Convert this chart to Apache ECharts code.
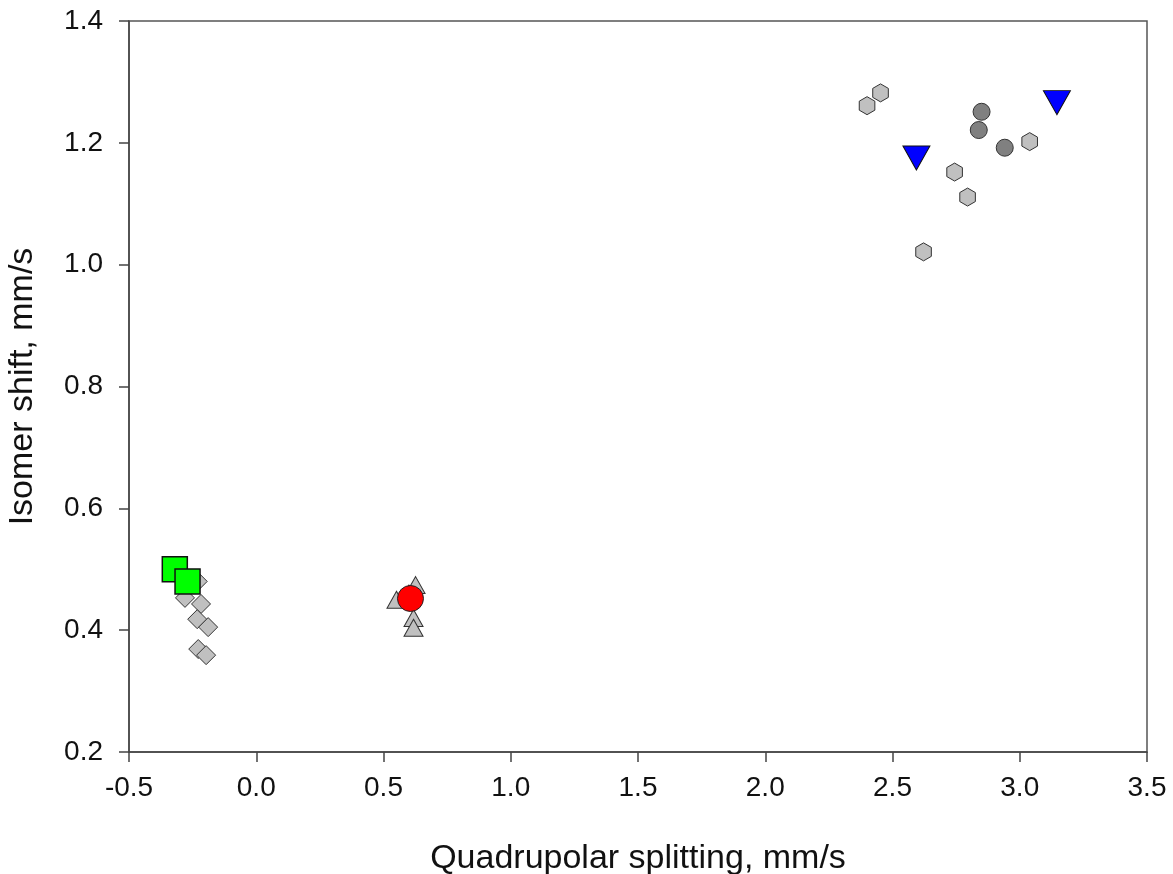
<!DOCTYPE html>
<html>
<head>
<meta charset="utf-8">
<script src="https://cdn.jsdelivr.net/npm/echarts@6/dist/echarts.min.js"></script>
<style>html,body{margin:0;padding:0;background:#fff}#c{width:1173px;height:874px}</style>
</head>
<body>
<div id="c"></div>
<script>
// Data [quadrupolar splitting, isomer shift]
const grayDiamonds = [[-0.23,0.48],[-0.28,0.453],[-0.217,0.443],[-0.232,0.418],[-0.189,0.405],[-0.228,0.369],[-0.197,0.359]];
const greenSquares = [[-0.32,0.50],[-0.27,0.48]];
const grayTriangles = [[0.626,0.474],[0.60,0.46],[0.551,0.45],[0.618,0.42],[0.618,0.404]];
const redCircle = [[0.606,0.452]];
const grayHexagons = [[2.40,1.261],[2.453,1.282],[3.039,1.202],[2.744,1.152],[2.795,1.111],[2.622,1.021]];
const darkCircles = [[2.85,1.251],[2.839,1.221],[2.941,1.192]];
const blueTriangles = [[2.594,1.175],[3.146,1.266]];

const xTitle = 'Quadrupolar splitting, mm/s';
const yTitle = 'Isomer shift, mm/s';

const font = 'Liberation Sans, Arial, sans-serif';
const hexPath = 'path://M0,-1 L0.866,-0.5 L0.866,0.5 L0,1 L-0.866,0.5 L-0.866,-0.5 Z';
const border = {borderColor:'#333', borderWidth:1, opacity:1};

const chart = echarts.init(document.getElementById('c'), null, {renderer:'canvas'});
chart.setOption({
  animation:false,
  backgroundColor:'#fff',
  grid:{left:129, right:26, top:21, bottom:122, outerBoundsMode:'none', containLabel:false,
        show:true, borderColor:'#555', borderWidth:1.5, backgroundColor:'transparent'},
  xAxis:{
    type:'value', min:-0.5, max:3.5, interval:0.5,
    name:xTitle, nameLocation:'middle', nameGap:90,
    nameTextStyle:{fontFamily:font, fontSize:34, color:'#111'},
    axisLine:{show:true, onZero:false, lineStyle:{color:'#444', width:1.5}},
    axisTick:{show:true, inside:false, length:10, lineStyle:{color:'#444', width:1.5}},
    axisLabel:{fontFamily:font, fontSize:28, color:'#111', margin:22, formatter:v=>v.toFixed(1)},
    splitLine:{show:false}
  },
  yAxis:{
    type:'value', min:0.2, max:1.4, interval:0.2,
    name:yTitle, nameLocation:'middle', nameGap:89,
    nameTextStyle:{fontFamily:font, fontSize:34, color:'#111'},
    axisLine:{show:true, onZero:false, lineStyle:{color:'#444', width:1.5}},
    axisTick:{show:true, inside:false, length:10, lineStyle:{color:'#444', width:1.5}},
    axisLabel:{fontFamily:font, fontSize:28, color:'#111', margin:26, formatter:v=>v.toFixed(1)},
    splitLine:{show:false}
  },
  series:[
    {type:'scatter', data:grayDiamonds, symbol:'diamond', symbolSize:[19,19], itemStyle:Object.assign({color:'#c0c0c0'},border)},
    {type:'scatter', data:greenSquares, symbol:'rect', symbolSize:25, itemStyle:{color:'#00ff00', borderColor:'#111', borderWidth:1.5, opacity:1}},
    {type:'scatter', data:grayTriangles, symbol:'triangle', symbolSize:[19,17], itemStyle:Object.assign({color:'#c0c0c0'},border)},
    {type:'scatter', data:redCircle, symbol:'circle', symbolSize:26, itemStyle:{color:'#ff0000', borderColor:'#222', borderWidth:1, opacity:1}},
    {type:'scatter', data:grayHexagons, symbol:hexPath, symbolKeepAspect:true, symbolSize:[18,18], itemStyle:Object.assign({color:'#c0c0c0'},border)},
    {type:'scatter', data:darkCircles, symbol:'circle', symbolSize:17, itemStyle:Object.assign({color:'#808080'},border)},
    {type:'scatter', data:blueTriangles, symbol:'triangle', symbolRotate:180, symbolSize:[27,24], itemStyle:{color:'#0000ff', borderColor:'#111', borderWidth:1, opacity:1}}
  ]
});
</script>
</body>
</html>
